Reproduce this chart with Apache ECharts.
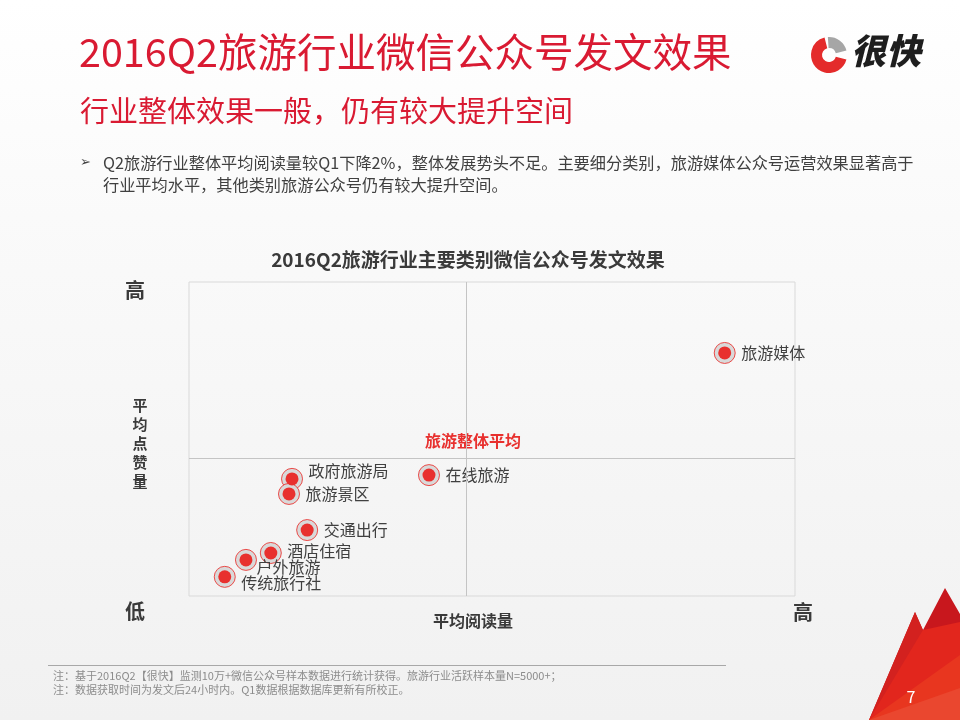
<!DOCTYPE html>
<html><head><meta charset="utf-8">
<script src="https://cdn.jsdelivr.net/npm/echarts/dist/echarts.min.js"></script>
<style>html,body{margin:0;padding:0;background:#fff;}#c{width:960px;height:720px;}</style>
</head><body><div id="c"></div>
<script>
// ---- data ----
const categories = ['旅游媒体','在线旅游','政府旅游局','旅游景区','交通出行','酒店住宿','户外旅游','传统旅行社'];
const avgReads = [88.4, 39.6, 17.0, 16.5, 19.5, 13.5, 9.4, 5.9];   // 平均阅读量 (relative)
const avgLikes = [77.4, 38.5, 37.3, 32.5, 21.0, 13.7, 11.5, 6.1];  // 平均点赞量 (relative)
const averageReads = 45.7;
const averageLikes = 43.9;
const axisRange = [0, 100];

// ---- label style tweaks (offsets in px) ----
const labelOffsets = {
  '政府旅游局': [0, -8],
  '户外旅游': [-6, 7],
  '传统旅行社': [0, 6],
  '酒店住宿': [0, -2]
};

const FONT = '"Noto Sans CJK SC","Microsoft YaHei",sans-serif';
const points = categories.map((n, i) => ({
  name: n,
  value: [avgReads[i], avgLikes[i]],
  label: { offset: labelOffsets[n] || [0, 0] }
}));

const chart = echarts.init(document.getElementById('c'));
chart.setOption({
  backgroundColor: {
    type: 'linear', x: 0, y: 0, x2: 0, y2: 1,
    colorStops: [{offset: 0, color: '#ffffff'}, {offset: 0.3, color: '#fafafa'}, {offset: 1, color: '#f1f1f1'}]
  },
  animation: false,
  grid: { left: 189, top: 282, width: 606, height: 314, show: true, borderColor: '#d9d9d9', borderWidth: 1, backgroundColor: 'transparent' },
  xAxis: { type: 'value', min: axisRange[0], max: axisRange[1], axisLine: {show: false}, axisTick: {show: false}, axisLabel: {show: false}, splitLine: {show: false} },
  yAxis: { type: 'value', min: axisRange[0], max: axisRange[1], axisLine: {show: false}, axisTick: {show: false}, axisLabel: {show: false}, splitLine: {show: false} },
  series: [
    {
      type: 'scatter', symbolSize: 21, silent: true,
      itemStyle: { color: '#d9d9d9', borderColor: '#ea4a48', borderWidth: 1, opacity: 1 },
      data: points.map(p => ({ name: p.name, value: p.value })),
      markLine: {
        silent: true, symbol: 'none',
        lineStyle: { color: '#c4c4c4', width: 1, type: 'solid' },
        label: { show: false },
        data: [{ xAxis: averageReads }, { yAxis: averageLikes }]
      }
    },
    {
      type: 'scatter', symbolSize: 13, silent: true,
      itemStyle: { color: '#e8302e', opacity: 1 },
      label: { show: true, position: 'right', distance: 10, formatter: '{b}', color: '#404040', fontSize: 16, fontFamily: FONT },
      data: points
    }
  ],
  graphic: [
    // page title
    { type: 'text', left: 79, top: 32, style: { text: '2016Q2旅游行业微信公众号发文效果', fill: '#d91a32', font: 'normal 39.5px ' + FONT } },
    { type: 'text', left: 80, top: 96, style: { text: '行业整体效果一般，仍有较大提升空间', fill: '#d91a32', font: 'normal 29px ' + FONT } },
    // bullet
    { type: 'text', left: 80, top: 155, style: { text: '➢', fill: '#404040', font: '13px ' + FONT } },
    { type: 'text', left: 103, top: 152, style: { text: 'Q2旅游行业整体平均阅读量较Q1下降2%，整体发展势头不足。主要细分类别，旅游媒体公众号运营效果显著高于\n行业平均水平，其他类别旅游公众号仍有较大提升空间。', fill: '#404040', font: '16.2px ' + FONT, lineHeight: 22 } },
    // logo
    { type: 'sector', shape: { cx: 829, cy: 55, r: 18, r0: 7, startAngle: Math.PI * 0.08, endAngle: Math.PI * 1.42 }, style: { fill: '#e42b2b' } },
    { type: 'sector', shape: { cx: 829, cy: 55, r: 18, r0: 7, startAngle: Math.PI * 1.48, endAngle: Math.PI * 1.92 }, style: { fill: '#a6a6a6' } },
    { type: 'text', left: 851, top: 33, style: { text: '很快', fill: '#1e1e1e', font: 'italic 900 35px ' + FONT } },
    // chart title
    { type: 'text', x: 468, y: 260, style: { text: '2016Q2旅游行业主要类别微信公众号发文效果', fill: '#3a3a3a', font: 'bold 19px ' + FONT, textAlign: 'center', textVerticalAlign: 'middle' } },
    // axis hints
    { type: 'text', x: 135, y: 290, style: { text: '高', fill: '#3a3a3a', font: 'bold 20px ' + FONT, textAlign: 'center', textVerticalAlign: 'middle' } },
    { type: 'text', x: 135, y: 611, style: { text: '低', fill: '#3a3a3a', font: 'bold 20px ' + FONT, textAlign: 'center', textVerticalAlign: 'middle' } },
    { type: 'text', x: 803, y: 612, style: { text: '高', fill: '#3a3a3a', font: 'bold 20px ' + FONT, textAlign: 'center', textVerticalAlign: 'middle' } },
    { type: 'text', x: 473, y: 621, style: { text: '平均阅读量', fill: '#3a3a3a', font: 'bold 16px ' + FONT, textAlign: 'center', textVerticalAlign: 'middle' } },
    { type: 'text', x: 140, y: 443, style: { text: '平\n均\n点\n赞\n量', fill: '#3a3a3a', font: 'bold 15px ' + FONT, lineHeight: 19, textAlign: 'center', textVerticalAlign: 'middle' } },
    { type: 'text', x: 473, y: 441, style: { text: '旅游整体平均', fill: '#e8302e', font: 'bold 16px ' + FONT, textAlign: 'center', textVerticalAlign: 'middle' } },
    // footer
    { type: 'line', shape: { x1: 48, y1: 665.5, x2: 726, y2: 665.5 }, style: { stroke: '#a8a8a8', lineWidth: 1 } },
    { type: 'text', left: 53, top: 669, style: { text: '注：基于2016Q2【很快】监测10万+微信公众号样本数据进行统计获得。旅游行业活跃样本量N=5000+；\n注：数据获取时间为发文后24小时内。Q1数据根据数据库更新有所校正。', fill: '#8c8c8c', font: '11px ' + FONT, lineHeight: 14 } },
    // decorative triangles
    { type: 'polygon', shape: { points: [[869,720],[915,612],[923,630],[945,588],[960,614],[960,720]] }, style: { fill: '#c8171d' } },
    { type: 'polygon', shape: { points: [[869,720],[915,612],[929,644],[900,720]] }, style: { fill: '#d3211f' } },
    { type: 'polygon', shape: { points: [[869,720],[923,630],[960,622],[960,720]] }, style: { fill: '#e2261d' } },
    { type: 'polygon', shape: { points: [[869,720],[960,655],[960,720]] }, style: { fill: '#e8361f' } },
    { type: 'polygon', shape: { points: [[869,720],[960,688],[960,720]] }, style: { fill: '#ea472f' } },
    { type: 'text', x: 911, y: 697, style: { text: '7', fill: '#ffffff', font: '16px ' + FONT, textAlign: 'center', textVerticalAlign: 'middle' } }
  ]
});
</script>
</body></html>
